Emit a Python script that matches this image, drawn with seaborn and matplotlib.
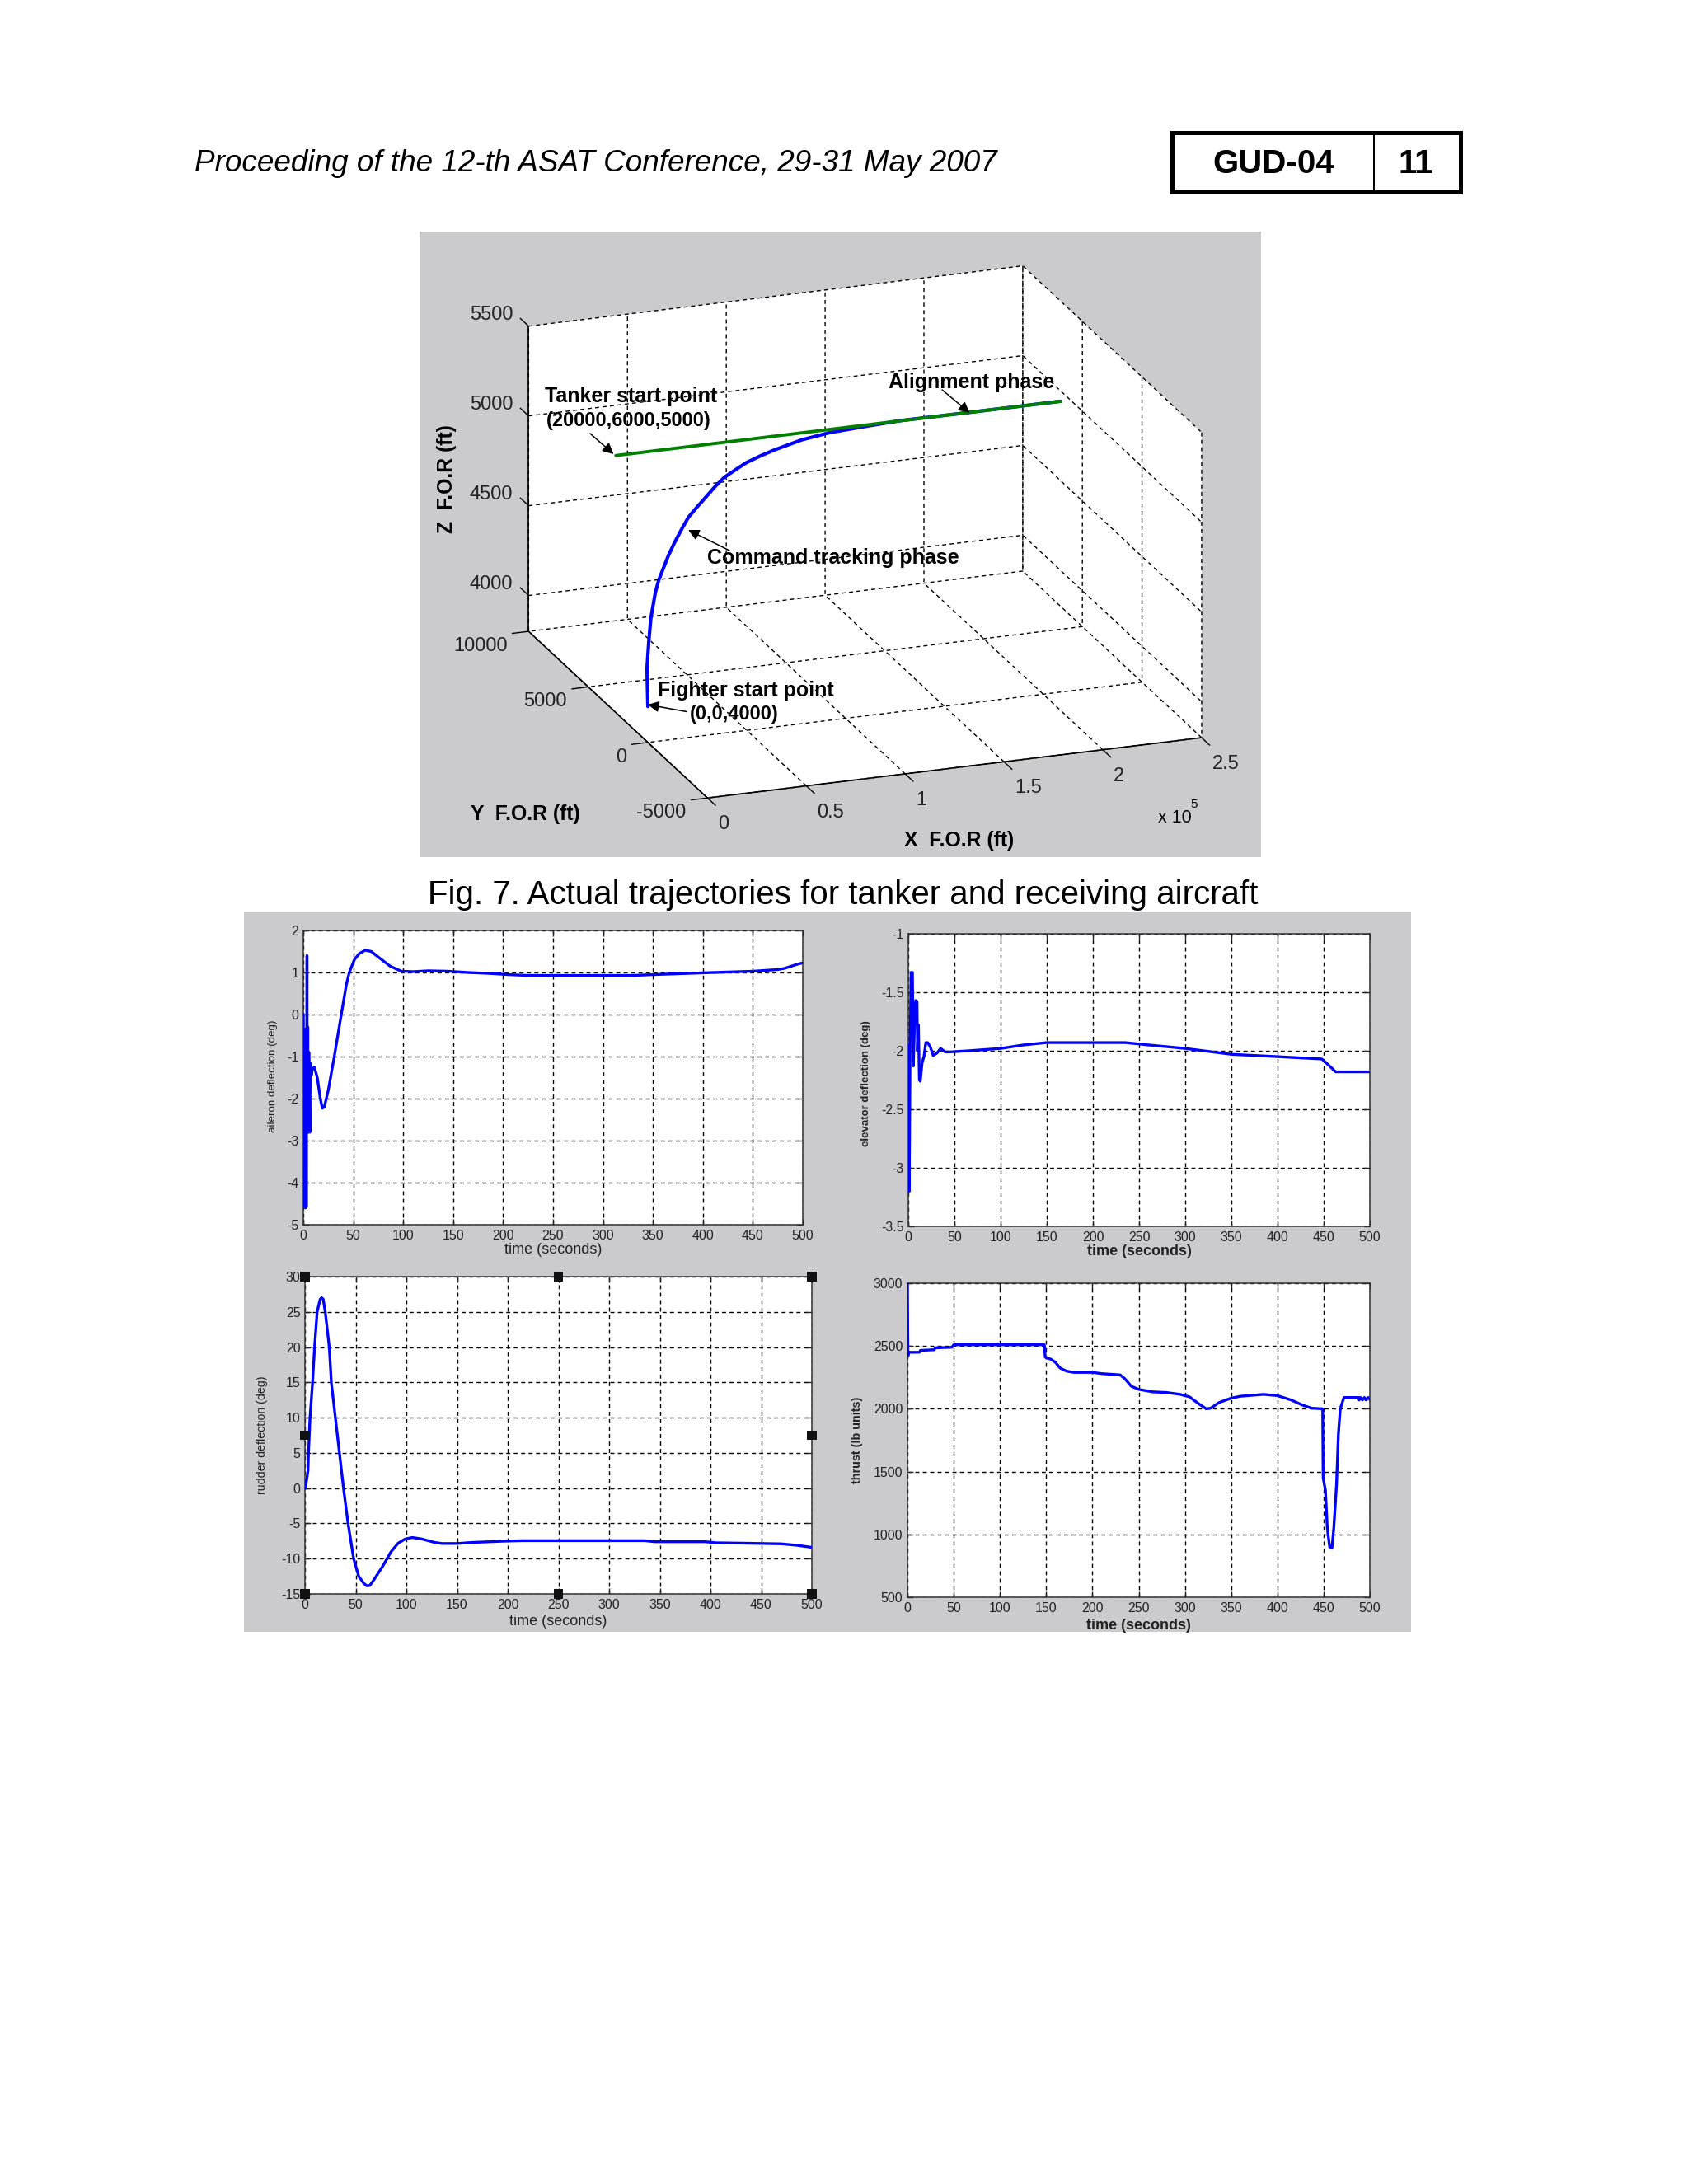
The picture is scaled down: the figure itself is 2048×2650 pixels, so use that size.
"""
plot.py - page with 3D trajectory and four control-surface time histories
"""

import matplotlib
matplotlib.use("Agg")
import matplotlib.pyplot as plt
import seaborn as sns
from matplotlib.patches import Rectangle, FancyArrowPatch
from mpl_toolkits.mplot3d import proj3d

W, H = 2048, 2650
GREY = "#cbcbcd"
BLUE = "#0000ff"
GREEN = "#008000"
DASH = (0, (3.5, 3))

# ---- trajectory data ----
fighter_x = [0, 150, 3400, 7540, 10170, 12790, 16000, 20030, 24050, 28630, 33500, 38630,
             44630, 50890, 56600, 62850, 69950, 77040, 85550, 94050, 110420, 126200,
             144200, 164300, 192300, 220300, 245000]
fighter_y = [0, 100, 500, 1000, 1250, 1500, 1750, 2000, 2250, 2500, 2750, 3000,
             3250, 3500, 3750, 4000, 4250, 4500, 4750, 5000, 5400, 5700,
             5900, 6000, 6000, 6000, 6000]
fighter_z = [4000, 4205, 4316, 4420, 4472, 4523, 4573, 4623, 4672, 4721, 4769, 4817,
             4852, 4887, 4917, 4945, 4962, 4977, 4987, 4993, 5003, 5003,
             4999, 5001, 5000, 5000, 5000]
tanker_x = [20000, 245000]
tanker_y = [6000, 6000]
tanker_z = [5000, 5000]

x3_ticks = [0, 50000, 100000, 150000, 200000, 250000]
x3_labels = ["0", "0.5", "1", "1.5", "2", "2.5"]
y3_ticks = [-5000, 0, 5000, 10000]
z3_ticks = [4000, 4500, 5000, 5500]

# ---- time histories ----
aileron_t = [0, 1, 1.5, 2, 2.5, 3, 3.7, 4, 4.5, 5, 5.5, 6.5, 7, 8, 9, 11, 14, 17, 19, 21,
             25, 31, 38, 43, 46, 51, 56, 62, 68, 76, 87, 98, 110, 125, 145, 165, 185,
             205, 225, 330, 350, 375, 410, 450, 475, 482, 495, 500]
aileron_v = [0, -4.55, -0.35, -4.6, -0.4, -4.58, 1.4, -2.8, -0.3, -2.8, -0.9, -2.8, -1.15,
             -1.45, -1.3, -1.25, -1.5, -2.0, -2.23, -2.2, -1.8, -1.0, 0, 0.7, 1.0, 1.3,
             1.45, 1.53, 1.5, 1.35, 1.15, 1.03, 1.02, 1.04, 1.03, 1.0, 0.98, 0.95, 0.93,
             0.93, 0.95, 0.97, 1.0, 1.03, 1.07, 1.1, 1.2, 1.23]

elevator_t = [0, 1, 2, 3, 4.5, 5.5, 7, 8, 9.5, 10, 11, 12, 13, 15, 17, 19, 21, 24, 27, 31,
              35, 40, 45, 65, 100, 125, 150, 235, 260, 300, 350, 400, 448, 455, 463, 500]
elevator_v = [-1.95, -3.2, -1.95, -1.33, -1.33, -2.13, -1.7, -1.57, -1.58, -2.0, -1.78,
              -2.25, -2.26, -2.1, -2.05, -1.93, -1.93, -1.97, -2.04, -2.02, -1.98, -2.01,
              -2.01, -2.0, -1.98, -1.95, -1.93, -1.93, -1.95, -1.98, -2.03, -2.05, -2.07,
              -2.12, -2.18, -2.18]

rudder_t = [0, 1.5, 3, 3.5, 5, 7.5, 9.5, 12, 15, 16.5, 18, 20, 24, 26, 30, 34, 38, 42.5, 48,
            53, 58, 61, 64, 68, 77, 85, 92, 99, 106, 115, 128, 135, 150, 165, 200, 215,
            335, 345, 395, 405, 430, 470, 485, 500]
rudder_v = [0, 1, 2.5, 5, 10, 15, 20, 25, 26.8, 27, 26.8, 25, 20, 15, 10, 5, 0, -5, -10,
            -12.5, -13.5, -13.85, -13.8, -13, -11, -9, -7.8, -7.2, -7.0, -7.2, -7.7, -7.85,
            -7.85, -7.7, -7.5, -7.45, -7.45, -7.6, -7.6, -7.75, -7.8, -7.9, -8.1, -8.4]

thrust_t = [0, 0.5, 1.5, 13, 14, 29, 30, 48, 50, 148, 149, 155, 160, 165, 172, 180, 200, 210,
            230, 235, 242, 250, 265, 280, 295, 305, 315, 323, 328, 337, 350, 360, 385, 400,
            415, 427, 437, 449, 449.5, 452, 454, 456.5, 459, 461, 464, 466, 468, 472, 488,
            488.5, 490, 492, 494, 496, 498, 500]
thrust_v = [3000, 2420, 2450, 2450, 2465, 2470, 2485, 2490, 2510, 2510, 2410, 2395, 2370,
            2325, 2300, 2290, 2290, 2280, 2270, 2240, 2180, 2155, 2135, 2130, 2115, 2095,
            2040, 2000, 2005, 2050, 2085, 2100, 2115, 2105, 2070, 2030, 2005, 2000, 1450,
            1350, 1050, 900, 890, 1050, 1400, 1800, 2000, 2090, 2090, 2070, 2090, 2070,
            2090, 2070, 2090, 2075]

time_ticks = [0, 50, 100, 150, 200, 250, 300, 350, 400, 450, 500]
aileron_ticks = [-5, -4, -3, -2, -1, 0, 1, 2]
elevator_ticks = [-3.5, -3, -2.5, -2, -1.5, -1]
elevator_labels = ["-3.5", "-3", "-2.5", "-2", "-1.5", "-1"]
rudder_ticks = [-15, -10, -5, 0, 5, 10, 15, 20, 25, 30]
thrust_ticks = [500, 1000, 1500, 2000, 2500, 3000]
handle_t = [0, 250, 500, 0, 500, 0, 250, 500]
handle_v = [30, 30, 30, 7.5, 7.5, -15, -15, -15]

sns.set_theme(style="ticks")
plt.rcParams["font.family"] = ["Liberation Sans", "DejaVu Sans"]
plt.rcParams["axes.unicode_minus"] = False
plt.rcParams["grid.color"] = "black"
plt.rcParams["grid.linewidth"] = 1.0
plt.rcParams["grid.linestyle"] = DASH
plt.rcParams["axes3d.automargin"] = False

fig = plt.figure(figsize=(W / 100, H / 100), dpi=100, facecolor="white")


def fx(x):
    return x / W


def fy(y):
    return 1 - y / H


def page_text(x, y, s, size, **kw):
    kw.setdefault("ha", "center")
    kw.setdefault("va", "center")
    kw.setdefault("color", "black")
    return fig.text(fx(x), fy(y), s, fontsize=size, zorder=5, **kw)


def page_rect(x0, y0, x1, y1, **kw):
    fig.add_artist(Rectangle((fx(x0), fy(y1)), fx(x1 - x0), (y1 - y0) / H,
                             transform=fig.transFigure, **kw))


def page_arrow(a, b):
    fig.add_artist(FancyArrowPatch((fx(a[0]), fy(a[1])), (fx(b[0]), fy(b[1])),
                                   transform=fig.transFigure, arrowstyle="-|>",
                                   mutation_scale=20, color="black", lw=1.1,
                                   shrinkA=0, shrinkB=0, zorder=6))


# ---- page furniture ----
page_text(236, 199, "Proceeding of the 12-th ASAT Conference, 29-31 May 2007", 26.6,
          ha="left", style="italic")
page_rect(1421.5, 161.5, 1771.5, 232.5, facecolor="white", edgecolor="black",
          linewidth=3.6, zorder=1)
page_rect(1666, 161.5, 1668, 232.5, facecolor="black", edgecolor="none", zorder=2)
page_text(1545, 199, "GUD-04", 29, fontweight="bold")
page_text(1718, 199, "11", 29, fontweight="bold")
page_text(1023, 1086, "Fig. 7. Actual trajectories for tanker and receiving aircraft", 29)

page_rect(509, 281, 1530, 1040, facecolor=GREY, edgecolor="none", zorder=-2)
page_rect(296, 1106, 1712, 1980, facecolor=GREY, edgecolor="none", zorder=-2)

# ---- 3D trajectory ----
ax3 = fig.add_axes([0.3, 0.6, 700 / W, 700 / H], projection="3d", proj_type="ortho")
ax3.view_init(elev=19.7, azim=-109.9)
ax3.set_box_aspect((1, 1, 0.617))
ax3.patch.set_alpha(0)
ax3.set_xlim(0, 250000, view_margin=0)
ax3.set_ylim(-5000, 10000, view_margin=0)
ax3.set_zlim(3800, 5500, view_margin=0)
ax3.set_xticks(x3_ticks)
ax3.set_xticklabels([])
ax3.set_yticks(y3_ticks)
ax3.set_yticklabels([])
ax3.set_zticks(z3_ticks)
ax3.set_zticklabels([])
for axis in (ax3.xaxis, ax3.yaxis, ax3.zaxis):
    axis.set_pane_color("white")
    axis.pane.set_edgecolor("none")
    axis.line.set_color("black")
    axis.line.set_linewidth(1.2)
    axis._axinfo["tick"]["inward_factor"] = 0.0
    axis._axinfo["tick"]["outward_factor"] = 0.0

# tick marks stick out along the neighbouring box edge
for tick in x3_ticks:
    ax3.plot([tick, tick], [-5000, -5675], [3800, 3800], color="black", lw=1.0)
for tick in y3_ticks:
    ax3.plot([0, -8300], [tick, tick], [3800, 3800], color="black", lw=1.0)
for tick in z3_ticks:
    ax3.plot([0, 0], [10000, 10700], [tick, tick], color="black", lw=1.0)

ax3.plot(fighter_x, fighter_y, fighter_z, color=BLUE, lw=3.0)
ax3.plot(tanker_x, tanker_y, tanker_z, color=GREEN, lw=2.8)


def corner_px(x, y, z):
    xs, ys, _ = proj3d.proj_transform(x, y, z, ax3.get_proj())
    return ax3.transData.transform((xs, ys))


# fit the 3D box on the panel: front corner and right corner of the floor
target0 = (858.4, H - 968.2)
target1 = (1457.9, H - 895.2)
side = 700.0
cx, cy = 1000.0, H - 650.0
for _ in range(4):
    ax3.set_position([(cx - side / 2) / W, (cy - side / 2) / H, side / W, side / H])
    fig.canvas.draw()
    p0 = corner_px(0, -5000, 3800)
    p1 = corner_px(250000, -5000, 3800)
    k = (target1[0] - target0[0]) / (p1[0] - p0[0])
    if abs(k - 1) < 1e-4 and abs(target0[0] - p0[0]) < 0.2:
        break
    cx = cx + (target0[0] - p0[0])
    cy = cy + (target0[1] - p0[1])
    side = side * k


def tick_label_3d(point, s, dx, dy, ha):
    # text placed off the projected tick position, dx/dy in page pixels
    px = corner_px(*point)
    page_text(px[0] + dx, H - px[1] + dy, s, 17, ha=ha, color="#222222")


for tick, lab in zip(x3_ticks, x3_labels):
    tick_label_3d((tick, -5000, 3800), lab, 13, 32, "left")
for tick in y3_ticks:
    tick_label_3d((0, tick, 3800), str(tick), -26, 18, "right")
for tick in z3_ticks:
    tick_label_3d((0, 10000, tick), str(tick), -19, -14, "right")

page_text(542, 581, "Z  F.O.R (ft)", 17.8, rotation=90, fontweight="bold")
page_text(637, 988, "Y  F.O.R (ft)", 17.8, fontweight="bold")
page_text(1164, 1020, "X  F.O.R (ft)", 17.8, fontweight="bold")
page_text(1425, 992, "x 10", 15.5)
page_text(1449, 976, "5", 11)

page_text(766, 481, "Tanker start point", 18, fontweight="bold")
page_text(763, 511, "(20000,6000,5000)", 17, fontweight="bold")
page_arrow((716, 526), (744.5, 551))
page_text(1179, 464, "Alignment phase", 18, fontweight="bold")
page_arrow((1143, 473), (1176.5, 501))
page_text(1011, 677, "Command tracking phase", 18, fontweight="bold")
page_arrow((885, 668), (835, 643))
page_text(905, 837.5, "Fighter start point", 18, fontweight="bold")
page_text(891, 867, "(0,0,4000)", 17, fontweight="bold")
page_arrow((833, 863.5), (786, 855))


# ---- 2D panels ----
def time_panel(box, t, v, ylim, yticks, ylabel, ylabel_x, ylabel_y, ylabel_size, xlabel_y,
               bold=False, ylabels=None):
    x0, y0, x1, y1 = box
    ax = fig.add_axes([fx(x0), fy(y1), fx(x1 - x0), (y1 - y0) / H])
    sns.lineplot(x=t, y=v, ax=ax, color=BLUE, linewidth=2.4, sort=False,
                 estimator=None, errorbar=None, zorder=3)
    ax.set_xlim(0, 500)
    ax.set_ylim(*ylim)
    ax.set_xticks(time_ticks)
    ax.set_yticks(yticks)
    if ylabels is not None:
        ax.set_yticklabels(ylabels)
    ax.set_facecolor("white")
    ax.grid(True, color="black", lw=1.0, linestyle=DASH)
    ax.tick_params(direction="in", length=5, width=1, labelsize=11.5, pad=4,
                   colors="#222222", top=True, right=True)
    for spine in ax.spines.values():
        spine.set_visible(True)
        spine.set_color("#333333")
        spine.set_linewidth(1.1)
    weight = "bold" if bold else "normal"
    ax.set_xlabel("time (seconds)", fontsize=13, fontweight=weight, color="#222222")
    ax.set_ylabel(ylabel, fontsize=ylabel_size, fontweight=weight, color="#222222")
    ax.xaxis.set_label_coords(0.5, -(xlabel_y - y1) / (y1 - y0))
    ax.yaxis.set_label_coords(-(x0 - ylabel_x) / (x1 - x0), (y1 - ylabel_y) / (y1 - y0))
    return ax


time_panel((368, 1129, 974, 1486), aileron_t, aileron_v, (-5, 2), aileron_ticks,
           "aileron deflection (deg)", 337, 1306, 9.6, 1508)
time_panel((1102, 1133, 1662, 1488), elevator_t, elevator_v, (-3.5, -1), elevator_ticks,
           "elevator deflection (deg)", 1057, 1315, 9.5, 1510, bold=True, ylabels=elevator_labels)
ax_rudder = time_panel((370, 1549, 985, 1934), rudder_t, rudder_v, (-15, 30), rudder_ticks,
                       "rudder deflection (deg)", 325, 1741, 10.2, 1959)
sns.scatterplot(x=handle_t, y=handle_v, ax=ax_rudder, marker="s", s=64, color="#111111",
                edgecolor="none", clip_on=False, zorder=6, legend=False)
time_panel((1101, 1557, 1662, 1938), thrust_t, thrust_v, (500, 3000), thrust_ticks,
           "thrust (lb units)", 1047, 1747, 10.4, 1964, bold=True)

fig.savefig("out.png", dpi=100, facecolor="white")
